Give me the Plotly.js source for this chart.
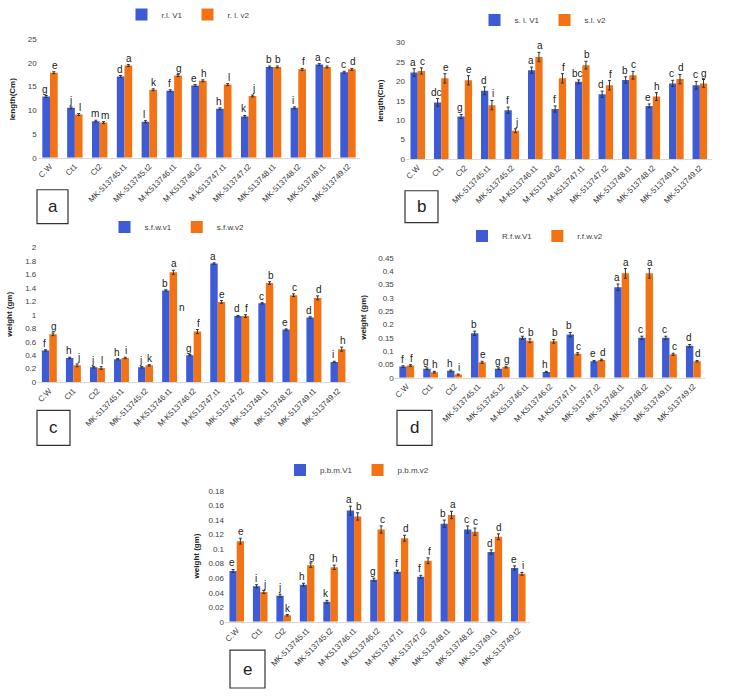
<!DOCTYPE html>
<html><head><meta charset="utf-8">
<script src="https://cdn.plot.ly/plotly-3.0.1.min.js"></script>
<style>html,body{margin:0;padding:0;background:#fff}#chart{width:730px;height:697px}</style>
</head><body><div id="chart"></div>
<script>
const categories = ["C.W","Ct1","Ct2","MK-513745.t1","MK-513745.t2","M-K513746.t1","M-K513746.t2","M-k513747.t1","MK-513747.t2","MK-513748.t1","MK-513748.t2","MK-513749.t1","MK-513749.t2"];
const categoriesC = ["C.W","Ct1","Ct2","MK-513745.t1","MK-513745.t2","M-K513746.t1","M-K513746.t2","M-K513747.t1","MK-513747.t2","MK-513748.t1","MK-513748.t2","MK-513749.t1","MK-513749.t2"];

// panel a : root length
const rlV1 = [12.9,10.5,7.7,17.1,7.6,14.1,15.2,10.3,8.7,19.1,10.5,19.6,18.0];
const rlV2 = [17.9,9.1,7.4,19.4,14.3,17.3,16.2,15.4,13.0,19.1,18.6,19.1,18.6];
const rlErr1 = [0.2,0.2,0.2,0.2,0.2,0.2,0.2,0.2,0.2,0.2,0.2,0.2,0.2];
const rlErr2 = [0.2,0.2,0.2,0.2,0.2,0.2,0.2,0.2,0.2,0.2,0.2,0.2,0.2];
const rlLet1 = ["g","j","m","d","l","f","e","h","k","b","i","a","c"];
const rlLet2 = ["e","l","m","a","k","g","h","l","j","b","f","c","d"];

// panel b : shoot length
const slV1 = [22.3,14.6,11.0,17.6,12.6,22.9,12.9,19.9,16.7,20.4,13.7,19.5,19.0];
const slV2 = [22.7,20.8,20.3,13.9,7.3,26.3,20.8,24.2,19.0,21.6,16.1,20.6,19.5];
const slErr1 = [1.0,1.0,0.5,1.0,0.8,0.8,0.8,0.5,0.8,0.8,0.5,0.8,1.0];
const slErr2 = [0.8,1.2,1.2,1.2,0.5,1.2,1.2,1.0,1.2,1.0,1.0,1.2,1.0];
const slLet1 = ["a","dc","g","d","f","a","f","bc","d","b","e","c","c"];
const slLet2 = ["c","e","e","i","j","a","f","b","f","c","h","d","g"];

// panel c : shoot fresh weight
const sfwV1 = [0.47,0.36,0.22,0.34,0.22,1.36,0.40,1.76,0.98,1.17,0.78,0.96,0.30];
const sfwV2 = [0.71,0.25,0.21,0.36,0.25,1.63,0.75,1.19,0.98,1.47,1.29,1.25,0.49];
const sfwErr1 = [0.01,0.01,0.01,0.01,0.01,0.01,0.01,0.01,0.01,0.01,0.01,0.01,0.01];
const sfwErr2 = [0.02,0.02,0.02,0.01,0.01,0.03,0.03,0.02,0.02,0.02,0.02,0.03,0.03];
const sfwLet1 = ["f","h","j","h","j","b","g","a","d","c","e","d","i"];
const sfwLet2 = ["g","j","l","i","k","a","f","e","f","b","c","d","h"];

// panel d : root fresh weight
const rfwV1 = [0.042,0.034,0.026,0.167,0.034,0.150,0.022,0.162,0.062,0.340,0.150,0.150,0.120];
const rfwV2 = [0.046,0.021,0.012,0.058,0.040,0.139,0.137,0.090,0.067,0.392,0.392,0.088,0.062];
const rfwErr1 = [0.003,0.003,0.003,0.008,0.003,0.006,0.002,0.008,0.003,0.012,0.006,0.006,0.005];
const rfwErr2 = [0.003,0.003,0.002,0.004,0.003,0.007,0.007,0.004,0.003,0.018,0.018,0.004,0.003];
const rfwLet1 = ["f","g","h","b","g","c","h","b","e","a","c","c","d"];
const rfwLet2 = ["f","h","i","e","g","b","b","c","d","a","a","c","d"];

// panel e : plant biomass
const pbmV1 = [0.070,0.049,0.036,0.051,0.0275,0.153,0.058,0.069,0.062,0.135,0.127,0.096,0.074];
const pbmV2 = [0.111,0.041,0.009,0.078,0.075,0.145,0.127,0.115,0.084,0.147,0.124,0.117,0.066];
const pbmErr1 = [0.002,0.002,0.002,0.002,0.002,0.006,0.002,0.002,0.002,0.005,0.005,0.003,0.003];
const pbmErr2 = [0.004,0.002,0.001,0.003,0.003,0.005,0.005,0.004,0.004,0.005,0.005,0.004,0.002];
const pbmLet1 = ["e","i","j","h","k","a","g","f","f","b","c","d","e"];
const pbmLet2 = ["e","j","k","g","h","b","c","d","f","a","c","d","i"];

const extraLetterC = {cat: "M-K513746.t2", y: 1.0, text: "n"};

const BLUE = "#3d5bd4", ORANGE = "#f37213";
const W = 730, H = 697;
const px = v => v / W, py = v => 1 - v / H;

const panels = [
  {id:"a", cats:categories, v1:rlV1, v2:rlV2, e1:rlErr1, e2:rlErr2, l1:rlLet1, l2:rlLet2, n1:"r.l. V1", n2:"r. l. v2",
   x0:37.6, x1:360.4, yt:38, yb:157, range:[0,25], dtick:5, ytitle:"length(Cm)", ytx:12,
   leg:[188,14], box:[37,189,68,223]},
  {id:"b", cats:categories, v1:slV1, v2:slV2, e1:slErr1, e2:slErr2, l1:slLet1, l2:slLet2, n1:"s. l. V1", n2:"s.l. v2",
   x0:406, x1:711.6, yt:41.7, yb:158.3, range:[0,30], dtick:5, ytitle:"length(Cm)", ytx:381,
   leg:[543,20], box:[405,190,438,222]},
  {id:"c", cats:categoriesC, v1:sfwV1, v2:sfwV2, e1:sfwErr1, e2:sfwErr2, l1:sfwLet1, l2:sfwLet2, n1:"s.f.w.v1", n2:"s.f.w.v2",
   x0:37.3, x1:350, yt:246.7, yb:381.7, range:[0,2], dtick:0.2, ytitle:"weight (gm)", ytx:10,
   leg:[177,227], box:[37,410,70,445]},
  {id:"d", cats:categoriesC, v1:rfwV1, v2:rfwV2, e1:rfwErr1, e2:rfwErr2, l1:rfwLet1, l2:rfwLet2, n1:"R.f.w.V1", n2:"r.f.w.v2",
   x0:394.8, x1:705.3, yt:257.3, yb:377.3, range:[0,0.45], dtick:0.05, ytitle:"weight (gm)", ytx:364,
   leg:[535,236], box:[397,410,432,445]},
  {id:"e", cats:categoriesC, v1:pbmV1, v2:pbmV2, e1:pbmErr1, e2:pbmErr2, l1:pbmLet1, l2:pbmLet2, n1:"p.b.m.V1", n2:"p.b.m.v2",
   x0:225, x1:530, yt:490.7, yb:621.7, range:[0,0.18], dtick:0.02, ytitle:"weight (gm)", ytx:196,
   leg:[357,470], box:[230,650,265,688]}
];

const traces = [], annotations = [], shapes = [];
const layout = {
  width: W, height: H, margin:{l:0,r:0,t:0,b:0},
  paper_bgcolor:"#fff", plot_bgcolor:"rgba(0,0,0,0)",
  font:{family:"Liberation Sans, Arial, sans-serif", color:"#404040", size:8},
  barmode:"group", bargap:0.38, bargroupgap:0, showlegend:true
};

panels.forEach((p, i) => {
  const k = i === 0 ? "" : String(i + 1);
  const xa = "x" + k, ya = "y" + k, lg = "legend" + k;
  const errStyle = arr => ({type:"data", array:arr, visible:true, color:"#333", thickness:1, width:1.5});
  traces.push({type:"bar", name:p.n1, x:p.cats, y:p.v1, xaxis:xa, yaxis:ya, legend:lg,
    marker:{color:BLUE}, error_y:errStyle(p.e1), hoverinfo:"none"});
  traces.push({type:"bar", name:p.n2, x:p.cats, y:p.v2, xaxis:xa, yaxis:ya, legend:lg,
    marker:{color:ORANGE}, error_y:errStyle(p.e2), hoverinfo:"none"});
  layout["xaxis" + k] = {domain:[px(p.x0), px(p.x1)], anchor:ya, type:"category",
    tickangle:-45, tickfont:{size:8, color:"#404040"}, showline:true, linecolor:"#d9d9d9",
    ticks:"", showgrid:false, zeroline:false, fixedrange:true, automargin:false};
  layout["yaxis" + k] = {domain:[py(p.yb), py(p.yt)], anchor:xa, range:p.range, dtick:p.dtick,
    showgrid:false, zeroline:false, showline:false, ticks:"", tickfont:{size:8, color:"#404040"},
    fixedrange:true, automargin:false};
  layout[lg] = {orientation:"h", x:px(p.leg[0]), y:py(p.leg[1]), xanchor:"center", yanchor:"middle",
    font:{size:8, color:"#404040"}, bgcolor:"rgba(0,0,0,0)", itemwidth:30,
    tracegroupgap:0, traceorder:"normal"};
  annotations.push({xref:"paper", yref:"paper", x:px(p.ytx), y:py((p.yt + p.yb) / 2), text:"<b>" + p.ytitle + "</b>",
    textangle:-90, showarrow:false, font:{size:8, color:"#222"}, xanchor:"center", yanchor:"middle"});
  shapes.push({type:"rect", xref:"paper", yref:"paper", x0:px(p.box[0]), x1:px(p.box[2]), y0:py(p.box[3]), y1:py(p.box[1]),
    line:{color:"#333", width:1.2}, fillcolor:"rgba(0,0,0,0)"});
  annotations.push({xref:"paper", yref:"paper", x:px((p.box[0] + p.box[2]) / 2), y:py((p.box[1] + p.box[3]) / 2),
    text:p.id, showarrow:false, font:{size:17, color:"#222"}, xanchor:"center", yanchor:"middle"});
  const bw = (p.x1 - p.x0) / 13 * 0.31 / 2;
  p.cats.forEach((c, j) => {
    annotations.push({xref:xa, yref:ya, x:c, y:p.v1[j] + p.e1[j], text:p.l1[j], showarrow:false,
      xshift:-bw - 1, yshift:-1, yanchor:"bottom", font:{size:10, color:"#222"}});
    annotations.push({xref:xa, yref:ya, x:c, y:p.v2[j] + p.e2[j], text:p.l2[j], showarrow:false,
      xshift:bw + 1, yshift:-1, yanchor:"bottom", font:{size:10, color:"#222"}});
  });
  if (p.id === "c") {
    annotations.push({xref:xa, yref:ya, x:extraLetterC.cat, y:extraLetterC.y, text:extraLetterC.text, showarrow:false,
      xshift:-bw - 8, yanchor:"bottom", font:{size:10, color:"#222"}});
  }
});
layout.annotations = annotations;
layout.shapes = shapes;
Plotly.newPlot("chart", traces, layout, {staticPlot:true, displayModeBar:false});
</script></body></html>
